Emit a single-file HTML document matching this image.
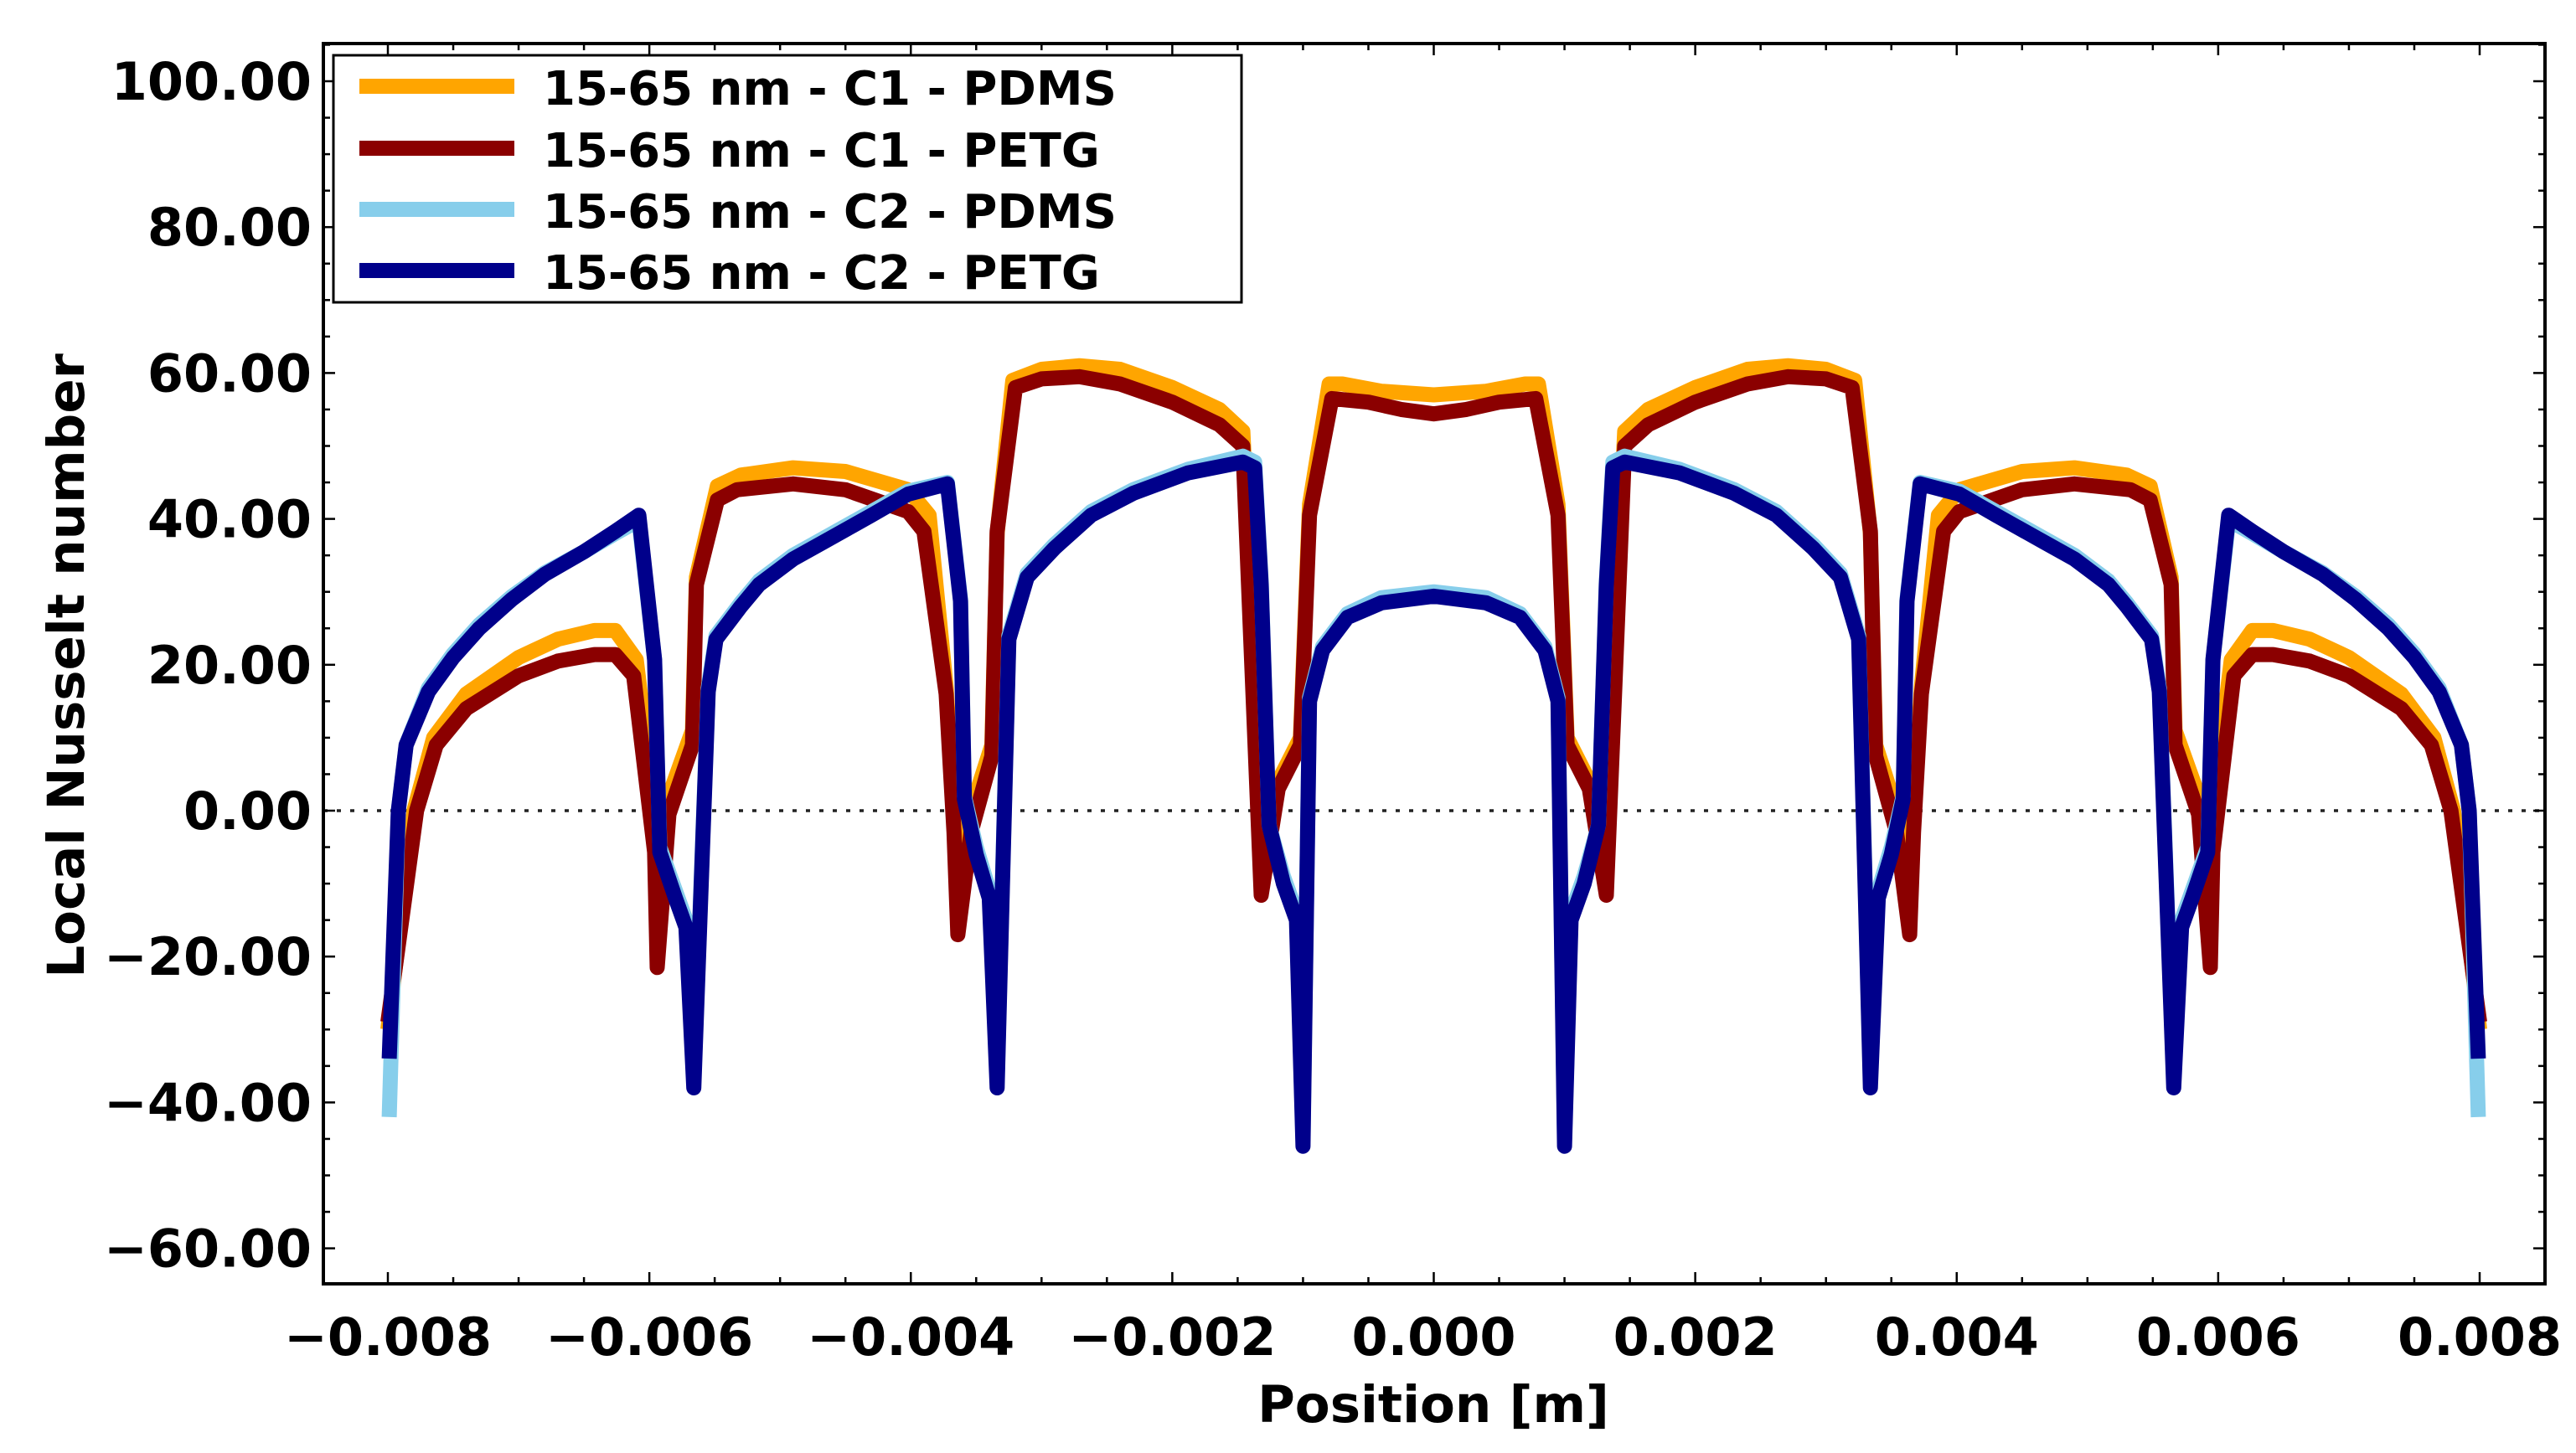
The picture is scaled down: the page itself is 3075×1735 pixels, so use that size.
<!DOCTYPE html>
<html><head><meta charset="utf-8"><style>
html,body{margin:0;padding:0;background:#fff;}
svg text{font-family:"DejaVu Sans","Liberation Sans",sans-serif;font-weight:bold;fill:#000;}
</style></head><body>
<svg id="chart" width="3075" height="1730" viewBox="0 0 3075 1730" xmlns="http://www.w3.org/2000/svg">
<rect x="0" y="0" width="3075" height="1730" fill="#fff"/>
<g id="grid"></g>
<g id="series"></g>
<g id="axes"></g>
<g id="legend"></g>
<text x="1711" y="1698" font-size="61" text-anchor="middle">Position [m]</text>
<text transform="translate(100,795) rotate(-90)" font-size="61" text-anchor="middle">Local Nusselt number</text>
</svg>
<script>
// x positions in mm, y = local Nusselt number
const xC1PETG = [-8.0,-7.78,-7.63,-7.4,-7.0,-6.7,-6.42,-6.26,-6.12,-5.96,-5.94,-5.85,-5.67,-5.64,-5.48,-5.33,-4.9,-4.5,-4.02,-3.9,-3.73,-3.67,-3.64,-3.54,-3.38,-3.34,-3.2,-3.0,-2.71,-2.4,-2.0,-1.64,-1.46,-1.32,-1.19,-1.02,-0.95,-0.78,-0.5,-0.25,0,
 0.25,0.5,0.78,0.95,1.02,1.19,1.32,1.46,1.64,2.0,2.4,2.71,3.0,3.2,3.34,3.38,3.54,3.64,3.67,3.73,3.9,4.02,4.5,4.9,5.33,5.48,5.64,5.67,5.85,5.94,5.96,6.12,6.26,6.42,6.7,7.0,7.4,7.63,7.78,8.0];
const yC1PETG = [-29,0,9,14,18.5,20.5,21.4,21.4,18.5,-5.7,-21.5,-0.5,9,31,42.6,44,44.8,44,41,38.3,16,-3,-17,-3,7.5,38.3,58,59.2,59.5,58.5,56,52.9,50,-11.6,3,9,40.5,56.5,56,55,54.4,
 55,56,56.5,40.5,9,3,-11.6,50,52.9,56,58.5,59.5,59.2,58,38.3,7.5,-3,-17,-3,16,38.3,41,44,44.8,44,42.6,31,9,-0.5,-21.5,-5.7,18.5,21.4,21.4,20.5,18.5,14,9,0,-29];

const xC1PDMS = [-8.0,-7.8,-7.65,-7.4,-7.0,-6.7,-6.42,-6.26,-6.1,-5.96,-5.94,-5.85,-5.67,-5.64,-5.48,-5.3,-4.9,-4.5,-4.02,-3.86,-3.73,-3.67,-3.64,-3.54,-3.38,-3.34,-3.22,-3.0,-2.71,-2.4,-2.0,-1.64,-1.46,-1.32,-1.3,-1.19,-1.02,-0.95,-0.8,-0.7,-0.4,0,
 0.4,0.7,0.8,0.95,1.02,1.19,1.3,1.32,1.46,1.64,2.0,2.4,2.71,3.0,3.22,3.34,3.38,3.54,3.64,3.67,3.73,3.86,4.02,4.5,4.9,5.3,5.48,5.64,5.67,5.85,5.94,5.96,6.1,6.26,6.42,6.7,7.0,7.4,7.65,7.8,8.0];
const yC1PDMS = [-30,0,10,16,21,23.5,24.7,24.7,20.7,0,-8,2,11,32,44.5,46,47,46.5,44,40.5,17,0,-8,0,9,38,59,60.5,61,60.5,58,55,52,0,-8,4,10,42,58.5,58.5,57.5,57,
 57.5,58.5,58.5,42,10,4,-8,0,52,55,58,60.5,61,60.5,59,38,9,0,-8,0,17,40.5,44,46.5,47,46,44.5,32,11,2,-8,0,20.7,24.7,24.7,23.5,21,16,10,0,-30];

const xC2 = [-7.99,-7.92,-7.86,-7.69,-7.5,-7.3,-7.05,-6.8,-6.5,-6.26,-6.08,-5.96,-5.92,-5.8,-5.72,-5.66,-5.55,-5.49,-5.3,-5.16,-4.9,-4.67,-4.3,-4.02,-3.72,-3.62,-3.59,-3.5,-3.4,-3.34,-3.25,-3.11,-2.9,-2.62,-2.3,-1.88,-1.46,-1.37,-1.32,-1.26,-1.15,-1.05,-1.0,-0.95,-0.85,-0.66,-0.4,0,
 0.4,0.66,0.85,0.95,1.0,1.05,1.15,1.26,1.32,1.37,1.46,1.88,2.3,2.62,2.9,3.11,3.25,3.34,3.4,3.5,3.59,3.62,3.72,4.02,4.3,4.67,4.9,5.16,5.3,5.49,5.55,5.66,5.72,5.8,5.92,5.96,6.08,6.26,6.5,6.8,7.05,7.3,7.5,7.69,7.86,7.92,7.99];
const yC2PETG = [-34,0,9,16.3,21,25,29,32.4,35.5,38.3,40.5,20.7,-5.7,-12,-16,-38,16.3,23.5,28,31,34.5,36.8,40.5,43.4,44.8,28.7,1.6,-6,-12,-38,23.5,32,36,40.5,43.5,46.3,47.8,47,31,-2,-10,-15,-46,15,22,26.5,28.5,29.4,
 28.5,26.5,22,15,-46,-15,-10,-2,31,47,47.8,46.3,43.5,40.5,36,32,23.5,-38,-12,-6,1.6,28.7,44.8,43.4,40.5,36.8,34.5,31,28,23.5,16.3,-38,-16,-12,-5.7,20.7,40.5,38.3,35.5,32.4,29,25,21,16.3,9,0,-34];
const yC2PDMS = [-42,0,9,16.8,21.5,25.5,29.4,32.6,35.5,38,39.8,20.7,-5,-11,-15,-37,16.8,24,28.5,31.5,35,37.3,41,43.8,45,29,2,-5,-11,-37,24,32.5,36.5,41,44,46.8,48.6,47.8,31.5,-2,-9,-14,-45,15.5,22.5,27,29.2,30,
 29.2,27,22.5,15.5,-45,-14,-9,-2,31.5,47.8,48.6,46.8,44,41,36.5,32.5,24,-37,-11,-5,2,29,45,43.8,41,37.3,35,31.5,28.5,24,16.8,-37,-15,-11,-5,20.7,39.8,38,35.5,32.6,29.4,25.5,21.5,16.8,9,0,-42];

const xTicks = [-0.008,-0.006,-0.004,-0.002,0,0.002,0.004,0.006,0.008];
const xTickLabels = ["\u22120.008","\u22120.006","\u22120.004","\u22120.002","0.000","0.002","0.004","0.006","0.008"];
const yTicks = [100,80,60,40,20,0,-20,-40,-60];
const yTickLabels = ["100.00","80.00","60.00","40.00","20.00","0.00","\u221220.00","\u221240.00","\u221260.00"];
const seriesNames = ["15-65 nm - C1 - PDMS","15-65 nm - C1 - PETG","15-65 nm - C2 - PDMS","15-65 nm - C2 - PETG"];
const seriesColors = ["#FFA500","#8B0000","#87CEEB","#00008B"];

const NS="http://www.w3.org/2000/svg";
const L=386,R=3038,T=52,B=1533;
function sx(v){return 463+(v+0.008)/0.016*(2960-463);}
function sxmm(v){return sx(v/1000);}
function sy(v){return 968-v*8.71;}
function mk(tag,attrs,parent){const e=document.createElementNS(NS,tag);for(const k in attrs)e.setAttribute(k,attrs[k]);parent.appendChild(e);return e;}

const grid=document.getElementById('grid');
const zl=mk('line',{x1:L,x2:R,y1:sy(0),y2:sy(0),stroke:'#222','stroke-width':3.5,'stroke-dasharray':'5 11'},grid);



const sg=document.getElementById('series');
const allSeries=[[xC1PDMS,yC1PDMS],[xC1PETG,yC1PETG],[xC2,yC2PDMS],[xC2,yC2PETG]];
const seriesIds=['line-c1-pdms','line-c1-petg','line-c2-pdms','line-c2-petg'];
allSeries.forEach((s,i)=>{
  const pts=s[0].map((x,j)=>sxmm(x).toFixed(1)+','+sy(s[1][j]).toFixed(1)).join(' ');
  const p=mk('polyline',{points:pts,fill:'none',stroke:seriesColors[i],'stroke-width':18,'stroke-linejoin':'round','stroke-linecap':'butt'},sg);
  
  
});

const ax=document.getElementById('axes');
const frame=mk('rect',{x:L,y:T,width:R-L,height:B-T,fill:'none',stroke:'#000','stroke-width':4},ax);


for(let k=-16;k<=16;k++){
  const v=k*0.0005, X=sx(v), major=(k%4===0), len=major?14:8;
  mk('line',{x1:X,x2:X,y1:B,y2:B-len,stroke:'#000','stroke-width':2.5},ax);
  mk('line',{x1:X,x2:X,y1:T,y2:T+len,stroke:'#000','stroke-width':2.5},ax);
}
for(let v=-60;v<=105;v+=5){
  const Y=sy(v), major=(v%20===0), len=major?14:8;
  mk('line',{x1:L,x2:L+len,y1:Y,y2:Y,stroke:'#000','stroke-width':2.5},ax);
  mk('line',{x1:R,x2:R-len,y1:Y,y2:Y,stroke:'#000','stroke-width':2.5},ax);
}
xTicks.forEach((v,i)=>{
  const t=mk('text',{x:sx(v),y:1618,'font-size':62,'text-anchor':'middle'},ax);
  t.textContent=xTickLabels[i];
  
  
});
yTicks.forEach((v,i)=>{
  const t=mk('text',{x:372,y:sy(v)+22,'font-size':62,'text-anchor':'end'},ax);
  t.textContent=yTickLabels[i];
  
  
});

const lg=document.getElementById('legend');
const box=mk('rect',{x:398,y:66,width:1084,height:295,fill:'#fff',stroke:'#000','stroke-width':3},lg);


const rowY=[103,177,250,323];
seriesNames.forEach((n,i)=>{
  const ln=mk('line',{x1:429,x2:614,y1:rowY[i],y2:rowY[i],stroke:seriesColors[i],'stroke-width':18},lg);
  
  
  const t=mk('text',{x:648,y:rowY[i]+22,'font-size':56},lg);
  t.textContent=n;
  
  
});
</script>
</body></html>
